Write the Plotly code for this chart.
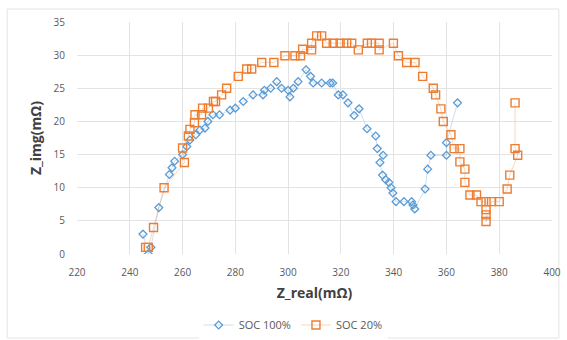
import plotly.graph_objects as go

# SOC 100% (blue diamonds)
soc100_x = [245, 247, 248, 251, 255, 256, 257, 260, 261.6, 262.8, 265, 266.6, 268.5, 269.6, 271.5, 274, 278, 280,
            283, 286.7, 290.5, 291, 293.4, 295.7, 297.5, 300, 300.7, 302, 303.8, 306.8, 308.5, 309.5, 312.7, 315.9,
            316.9, 319, 320.8, 322.7, 325, 326.9, 329.9, 333.2, 333.8, 336, 334.8, 335.8, 337, 338.2, 339, 339.7,
            340.9, 343.9, 346.8, 347.3, 348, 351.9, 352.9, 354.1, 360, 360, 364.2]
soc100_y = [3, 0, 1, 7, 12, 13, 14, 15, 16.2, 17.2, 18, 18.7, 19, 20, 21, 21, 21.7, 22,
            23, 24, 24, 24.7, 25, 26, 25, 24.7, 23.7, 25, 26, 27.8, 26.8, 25.8, 25.8, 25.8,
            25.8, 24, 24, 22.8, 20.9, 21.9, 18.9, 17.8, 15.9, 14.9, 13.8, 11.9, 11.2, 10.8, 10, 9.2,
            7.9, 7.9, 7.9, 7.4, 6.8, 9.8, 12.8, 14.9, 14.9, 16.8, 22.8]

# SOC 20% (orange squares)
soc20_x = [246, 247, 249, 253, 260.7, 260, 262.2, 262.8, 264.5, 264.7, 267.2, 267.6, 269.8, 271.7, 272.5, 274.8,
           276.7, 281.1, 284.3, 286.2, 290, 294.6, 298.8, 302.6, 304.7, 305.5, 308.9, 308.9, 310.8, 312.7,
           314.6, 317.1, 319.7, 322.2, 324.1, 326.6, 330, 331.6, 334.5, 334.5, 339.9, 341.8, 344.9, 348.1,
           351, 355, 355.9, 357.9, 358.8, 361.7, 362.9, 365.1, 365.1, 367, 367, 368.9, 371.4, 373.1, 375,
           375, 375, 375, 377.1, 380, 383, 384, 387, 386, 386]
soc20_y = [1, 1, 4, 10, 13.8, 16, 17.8, 18.8, 19.8, 21, 21, 22, 22, 23, 23, 24,
           25, 26.8, 27.9, 27.9, 28.9, 28.9, 29.9, 29.9, 29.9, 30.9, 30.8, 31.8, 32.9, 32.9,
           31.8, 31.8, 31.8, 31.8, 31.8, 30.8, 31.8, 31.8, 31.8, 30.8, 31.8, 29.9, 28.9, 28.9,
           26.8, 25, 24, 21.9, 20, 18, 15.9, 15.9, 13.9, 12.8, 10.8, 8.9, 8.9, 7.9, 7.9,
           6.7, 5.9, 4.9, 7.9, 7.9, 9.8, 11.9, 14.9, 15.9, 22.8]

x_ticks = [220, 240, 260, 280, 300, 320, 340, 360, 380, 400]
y_ticks = [0, 5, 10, 15, 20, 25, 30, 35]

BLUE = "#5B9BD5"
ORANGE = "#ED7D31"
FONT = "Open Sans"

fig = go.Figure()
fig.add_trace(go.Scatter(
    x=soc100_x, y=soc100_y, name="SOC 100%", mode="lines+markers",
    line=dict(color="rgba(91,155,213,0.4)", width=0.8),
    marker=dict(symbol="diamond-open", size=6, color=BLUE, line=dict(width=1.3, color=BLUE)),
))
fig.add_trace(go.Scatter(
    x=soc20_x, y=soc20_y, name="SOC 20%", mode="lines+markers",
    line=dict(color="rgba(237,125,49,0.4)", width=0.8),
    marker=dict(symbol="square-open", size=8, color=ORANGE, line=dict(width=1.4, color=ORANGE)),
))

fig.update_layout(
    width=567, height=340,
    margin=dict(l=77, r=15, t=22, b=86, autoexpand=False),
    paper_bgcolor="white", plot_bgcolor="white",
    font=dict(family=FONT, color="#595959", size=10),
    showlegend=True,
    legend=dict(orientation="h", x=0.455, xanchor="center", y=-0.306, yanchor="middle",
                font=dict(size=11, color="#595959"), itemwidth=30, tracegroupgap=0),
    shapes=[dict(type="rect", xref="paper", yref="paper",
                 x0=-0.147, x1=1.0145, y0=-0.362, y1=1.056,
                 line=dict(color="#e4e4e4", width=1), layer="below")],
)
fig.update_xaxes(
    range=[220, 400], tickvals=x_ticks, showgrid=True, gridcolor="#e3e3e3", gridwidth=1,
    zeroline=False, showline=False, ticks="outside", ticklen=9, tickcolor="rgba(0,0,0,0)",
    tickfont=dict(size=10, color="#595959"),
    title=dict(text="Z_real(mΩ)", font=dict(size=14, color="#404040", family=FONT, weight="bold"), standoff=10),
)
fig.update_yaxes(
    range=[0, 35], tickvals=y_ticks, showgrid=True, gridcolor="#e3e3e3", gridwidth=1,
    zeroline=False, showline=False, ticks="outside", ticklen=9, tickcolor="rgba(0,0,0,0)",
    tickfont=dict(size=10, color="#595959"),
    title=dict(text="Z_img(mΩ)", font=dict(size=14, color="#404040", family=FONT, weight="bold"), standoff=8),
)

fig.write_html("out.html")
